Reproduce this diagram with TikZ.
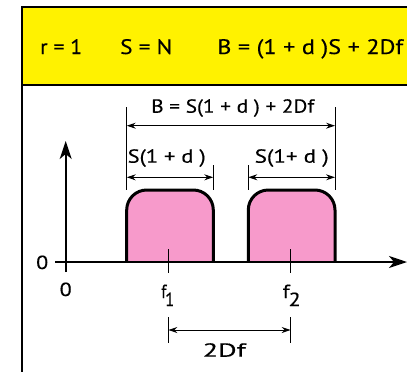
\documentclass[tikz,border=0pt]{standalone}
\usepackage{fontspec}
\usepackage{graphicx}
\setmainfont[FakeBold=0.4]{PT Sans}
\usetikzlibrary{arrows.meta}
\definecolor{pulsepink}{RGB}{247,154,203}
\newcommand{\wtext}[2]{\resizebox{#1}{\height}{#2}}
\tikzset{
  hdr/.style={anchor=base west, inner sep=0, font=\fontsize{21}{21}\selectfont},
  lbl/.style={anchor=base west, inner sep=0, font=\fontsize{19}{19}\selectfont},
  axisline/.style={line width=1.6bp, -{Stealth[length=18bp,width=12bp,inset=5bp]}},
  pulsefill/.style={fill=pulsepink},
  pulseedge/.style={line width=3bp, rounded corners=20bp},
  extline/.style={line width=1bp},
  tickline/.style={line width=1.2bp},
  dimline/.style={line width=1bp, {Stealth[length=9bp,width=6bp,inset=3bp]}-{Stealth[length=9bp,width=6bp,inset=3bp]}},
}
\begin{document}
\begin{tikzpicture}[x=1bp,y=-1bp]
\useasboundingbox (0,0) rectangle (407,372);
\clip (0,0) rectangle (407,372);
% frame
\fill[yellow] (22,7) rectangle (415,85);
\draw[line width=2bp] (415,7) -- (22,7) -- (22,380);
\draw[line width=1.2bp] (22,85) -- (415,85);
% header
\node[hdr] (h1) at (40,54) {\wtext{42bp}{r = 1}};
\node[hdr] (h2) at (120,54) {\wtext{52bp}{S = N}};
\node[hdr] (h3) at (217,54) {\wtext{186bp}{B = (1 + d )S + 2Df}};
% pulses
\fill[pulsefill, rounded corners=20bp] (126.7,262) -- (126.7,190) -- (213.3,190) -- (213.3,262) -- cycle;
\fill[pulsefill, rounded corners=20bp] (248.3,262) -- (248.3,190) -- (335,190) -- (335,262) -- cycle;
\fill[pulsefill] (126.7,225) rectangle (213.3,262);
\fill[pulsefill] (248.3,225) rectangle (335,262);
\draw[pulseedge] (126.7,262) -- (126.7,190) -- (213.3,190) -- (213.3,262);
\draw[pulseedge] (248.3,262) -- (248.3,190) -- (335,190) -- (335,262);
% axes
\coordinate (xs) at (55,262);
\coordinate (xe) at (407,262);
\coordinate (ys) at (65.7,272);
\coordinate (ye) at (65.7,141);
\draw[axisline] (xs) -- (xe);
\draw[axisline] (ys) -- (ye);
% ticks
\coordinate (f1t) at (168.3,249);
\coordinate (f1b) at (168.3,273);
\coordinate (f2t) at (290.7,249);
\coordinate (f2b) at (290.7,273);
\draw[tickline] (f1t) -- (f1b);
\draw[tickline] (f2t) -- (f2b);
\node[lbl] (zl) at (36,269) {\wtext{12bp}{0}};
\node[lbl] (zb) at (59.5,296) {\wtext{12bp}{0}};
\node[lbl] (f1) at (161,298) {\wtext{13bp}{f\kern-1.5bp\raisebox{-8bp}{1}}};
\node[lbl] (f2) at (282.5,298) {\wtext{18bp}{f\kern-1bp\raisebox{-8bp}{2}}};
% B dimension
\coordinate (bl1) at (126.7,107);
\coordinate (bl2) at (126.7,190);
\coordinate (br1) at (335,107);
\coordinate (br2) at (335,190);
\draw[extline] (bl1) -- (bl2);
\draw[extline] (br1) -- (br2);
\coordinate (ba) at (126.7,125.7);
\coordinate (bb) at (335,125.7);
\draw[dimline] (ba) -- (bb);
\node[lbl] (bt) at (151,112.7) {\wtext{163bp}{B = S(1 + d ) + 2Df}};
% S dimensions
\coordinate (s1r1) at (213.3,165);
\coordinate (s1r2) at (213.3,190);
\coordinate (s2l1) at (248.3,165);
\coordinate (s2l2) at (248.3,190);
\draw[extline] (s1r1) -- (s1r2);
\draw[extline] (s2l1) -- (s2l2);
\coordinate (s1a) at (126.7,177.3);
\coordinate (s1b) at (213.3,177.3);
\coordinate (s2a) at (248.3,177.3);
\coordinate (s2b) at (335,177.3);
\draw[dimline] (s1a) -- (s1b);
\draw[dimline] (s2a) -- (s2b);
\node[lbl] (s1t) at (127.5,162.7) {\wtext{78bp}{S(1 + d )}};
\node[lbl] (s2t) at (254.5,162.7) {\wtext{74bp}{S(1+ d )}};
% 2Df dimension
\coordinate (d1a) at (168.3,317);
\coordinate (d1b) at (168.3,343);
\coordinate (d2a) at (290.7,317);
\coordinate (d2b) at (290.7,343);
\draw[extline] (d1a) -- (d1b);
\draw[extline] (d2a) -- (d2b);
\coordinate (da) at (168.3,330);
\coordinate (db) at (290.7,330);
\draw[dimline] (da) -- (db);
\node[lbl] (dt) at (202.5,356.7) {\wtext{43bp}{2Df}};
\end{tikzpicture}
\end{document}
